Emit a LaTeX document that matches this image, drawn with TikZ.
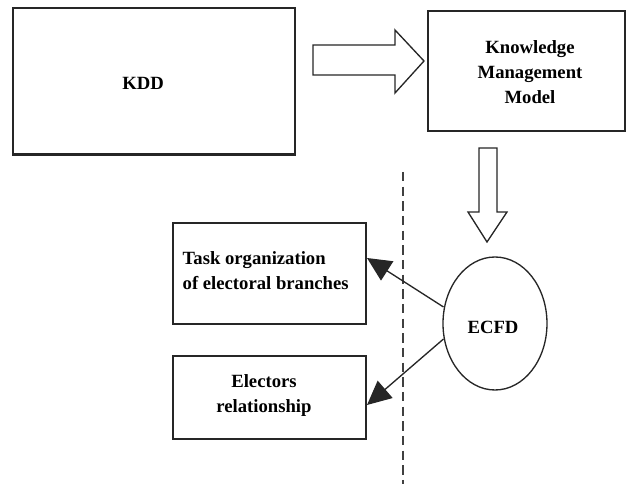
\documentclass[tikz,border=0pt]{standalone}
\usepackage{fontspec}
\setmainfont{Liberation Serif}
\usetikzlibrary{arrows.meta}
\begin{document}
\begin{tikzpicture}[x=0.75pt,y=-0.75pt,
  box/.style={draw=black!85,line width=1pt,inner sep=0pt},
  lbl/.style={font=\bfseries\fontsize{14}{18.75}\selectfont},
  blockarrow/.style={draw=black!85,line width=1pt,fill=white,line join=miter},
  conn/.style={draw=black!85,line width=1pt,-{Triangle[length=18pt,width=17pt]}}]
\useasboundingbox (0,0) rectangle (626,484);
% KDD
\node[box,minimum width=282pt*0.75,minimum height=146pt*0.75] (kdd) at (154,81) {};
\draw[black!85,line width=2.4pt] (kdd.south west) -- (kdd.south east);
\node[lbl] (kddt) at (143,83) {KDD};
% Knowledge Management Model
\node[box,minimum width=197*0.75pt,minimum height=120*0.75pt] (km) at (526.5,71) {};
\node[lbl,align=center] (kmt) at (530,72) {Knowledge\\Management\\Model};
% right block arrow
\path[blockarrow] (313,45) -- (395,45) -- (395,30) -- (424,61) -- (395,93) -- (395,75) -- (313,75) -- cycle;
% down block arrow
\path[blockarrow] (479,148) -- (497,148) -- (497,212) -- (507,212) -- (487,242) -- (468,212) -- (479,212) -- cycle;
% dashed line
\coordinate (d1) at (403,172);
\coordinate (d2) at (403,486);
\draw[black!75,line width=1.5pt,dash pattern=on 7pt off 4pt] (d1) -- (d2);
% Task box
\node[box,minimum width=193*0.75pt,minimum height=101*0.75pt] (task) at (269.5,273.5) {};
\node[lbl,align=left,anchor=west] (taskt) at (178,271) {Task organization\\of electoral branches};
% Electors box
\node[box,minimum width=193*0.75pt,minimum height=83*0.75pt] (elec) at (269.5,397.5) {};
\node[lbl,align=center] (elect) at (264,396) {Electors\\relationship};
% ECFD ellipse
\draw[black!85,line width=1pt] (495,323.5) ellipse [x radius=52*0.75pt, y radius=66.5*0.75pt];
\node[lbl] (ecfd) at (493,327) {ECFD};
\coordinate (e1) at (443.5,307);
\coordinate (e2) at (443.5,339);
\coordinate (t1) at (367,258);
\coordinate (t2) at (367,405);
\draw[conn] (e1) -- (t1);
\draw[conn] (e2) -- (t2);
\end{tikzpicture}
\end{document}
